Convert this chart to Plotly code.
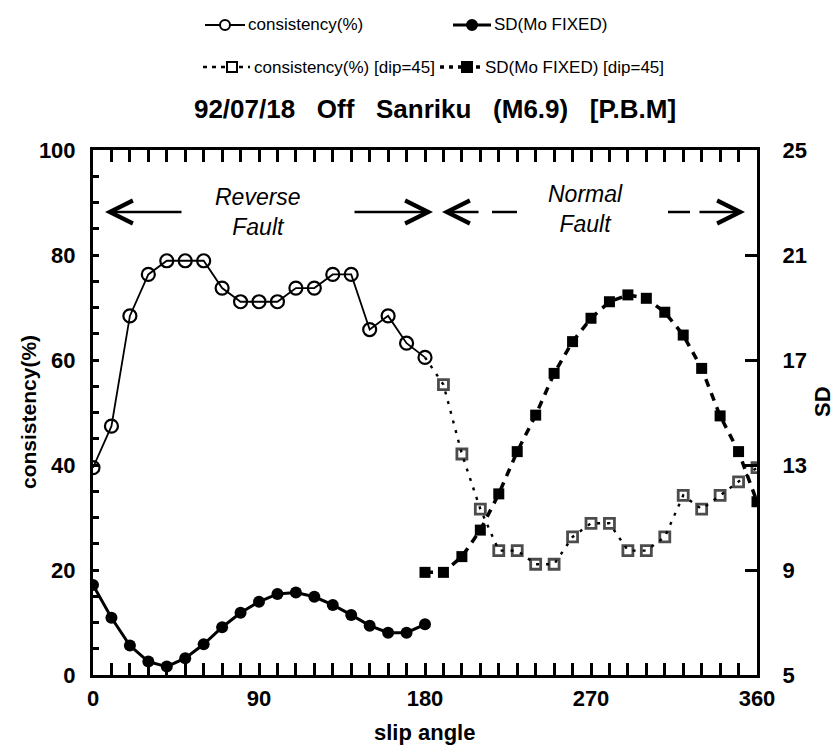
import plotly.graph_objects as go

# ---- data -------------------------------------------------------------
slip = list(range(0, 181, 10))          # reverse-fault half (dip 90)
slip_dip45 = list(range(180, 361, 10))  # normal-fault half (dip 45)

consistency = [39.5, 47.4, 68.4, 76.3, 78.9, 78.9, 78.9, 73.7, 71.1, 71.1,
               71.1, 73.7, 73.7, 76.3, 76.3, 65.8, 68.4, 63.2, 60.5]
sd_fixed = [8.43, 7.18, 6.12, 5.51, 5.32, 5.64, 6.17, 6.82, 7.37, 7.79,
            8.09, 8.14, 7.98, 7.67, 7.29, 6.88, 6.61, 6.61, 6.93]
consistency_dip45 = [60.5, 55.3, 42.1, 31.6, 23.7, 23.7, 21.1, 21.1, 26.3, 28.9,
                     28.9, 23.7, 23.7, 26.3, 34.2, 31.6, 34.2, 36.8, 39.5]
sd_fixed_dip45 = [8.91, 8.91, 9.51, 10.52, 11.90, 13.51, 14.90, 16.49, 17.70, 18.59,
                  19.22, 19.48, 19.35, 18.82, 17.95, 16.68, 14.87, 13.51, 11.60]

x_ticks = [0, 90, 180, 270, 360]
y_ticks = [0, 20, 40, 60, 80, 100]
sd_ticks = [5, 9, 13, 17, 21, 25]

title_text = "\u00a0\u00a0\u00a0".join(["92/07/18", "Off", "Sanriku", "(M6.9)", "[P.B.M]"])
legend_labels = ["consistency(%)", "SD(Mo FIXED)",
                 "consistency(%) [dip=45]", "SD(Mo FIXED) [dip=45]"]

# ---- geometry helpers (pixels -> paper) ----------------------------------
W, H = 835, 746
ML, MR, MT, MB = 93, 78, 150, 71
PW, PH = W - ML - MR, H - MT - MB


def px(xp):
    return (xp - ML) / PW


def py(yp):
    return (H - MB - yp) / PH


def deg(xp):
    return (xp - ML) / PW * 360.0


def pct(yp):
    return (H - MB - yp) / PH * 100.0


BLACK = "black"
FONT = "Liberation Sans, Arial, Helvetica, sans-serif"

fig = go.Figure()

# dip-45 series first so the solid series sit on top at the 180 join
hidden_first = [0] + [10] * (len(slip_dip45) - 1)
fig.add_trace(go.Scatter(
    x=slip_dip45, y=consistency_dip45, mode="lines+markers",
    line=dict(color=BLACK, width=2.4, dash="3px,7px"),
    marker=dict(symbol="square-open", size=hidden_first, color=BLACK,
                line=dict(width=2.8, color=BLACK)),
    showlegend=False))

fig.add_trace(go.Scatter(
    x=slip_dip45, y=sd_fixed_dip45, mode="lines+markers", yaxis="y2",
    line=dict(color=BLACK, width=3.5, dash="8px,7px"),
    marker=dict(symbol="square", size=11, color=BLACK),
    showlegend=False))

fig.add_trace(go.Scatter(
    x=slip, y=consistency, mode="lines+markers",
    line=dict(color=BLACK, width=1.8),
    marker=dict(symbol="circle-open", size=13, color=BLACK,
                line=dict(width=2.2, color=BLACK)),
    showlegend=False))

fig.add_trace(go.Scatter(
    x=slip, y=sd_fixed, mode="lines+markers", yaxis="y2",
    line=dict(color=BLACK, width=3),
    marker=dict(symbol="circle", size=12, color=BLACK),
    showlegend=False))

tick_font = dict(family=FONT, size=22, color=BLACK, weight="bold")

fig.update_layout(
    width=W, height=H,
    margin=dict(l=ML, r=MR, t=MT, b=MB),
    paper_bgcolor="white", plot_bgcolor="white",
    showlegend=False,
    title=dict(text=title_text, x=435 / W, xanchor="center", xref="container",
               y=1 - 109 / H, yanchor="middle", yref="container",
               font=dict(family=FONT, size=26, color=BLACK, weight="bold")),
    xaxis=dict(range=[0, 360], tickvals=x_ticks, ticks="inside", ticklen=12,
               tickwidth=2.5, tickcolor=BLACK,
               minor=dict(dtick=10, ticks="inside", ticklen=5, tickwidth=2.5,
                          tickcolor=BLACK, showgrid=False),
               showline=True, linewidth=3, linecolor=BLACK, mirror="allticks",
               showgrid=False, zeroline=False, tickfont=tick_font,
               ticklabelstandoff=2),
    yaxis=dict(range=[0, 100], tickvals=y_ticks, ticks="inside", ticklen=6,
               tickwidth=2.5, tickcolor=BLACK,
               minor=dict(dtick=5, ticks="inside", ticklen=6, tickwidth=2.5,
                          tickcolor=BLACK, showgrid=False),
               showline=True, linewidth=3, linecolor=BLACK,
               showgrid=False, zeroline=False, tickfont=tick_font,
               ticklabelstandoff=10),
    yaxis2=dict(range=[5, 25], tickvals=sd_ticks, overlaying="y", side="right",
                ticks="inside", ticklen=12, tickwidth=2.5, tickcolor=BLACK,
                showline=True, linewidth=3, linecolor=BLACK,
                showgrid=False, zeroline=False, tickfont=tick_font,
                ticklabelstandoff=18),
)

annotations = []
shapes = []

# axis titles
annotations.append(dict(text="slip angle", xref="paper", yref="paper",
                        x=px(424), y=py(732), xanchor="center", yanchor="middle",
                        showarrow=False,
                        font=dict(family=FONT, size=22, color=BLACK, weight="bold")))
annotations.append(dict(text="consistency(%)", xref="paper", yref="paper",
                        x=px(28), y=py(412), xanchor="center", yanchor="middle",
                        textangle=-90, showarrow=False,
                        font=dict(family=FONT, size=21, color=BLACK, weight="bold")))
annotations.append(dict(text="SD", xref="paper", yref="paper",
                        x=px(822), y=py(402), xanchor="center", yanchor="middle",
                        textangle=-90, showarrow=False,
                        font=dict(family=FONT, size=22, color=BLACK, weight="bold")))

# fault regime labels
fault_font = dict(family=FONT, size=23, color=BLACK, style="italic")
annotations.append(dict(text="Reverse<br>Fault", x=deg(258), y=pct(212),
                        xref="x", yref="y", showarrow=False, font=fault_font))
annotations.append(dict(text="Normal<br>Fault", x=deg(585), y=pct(209),
                        xref="x", yref="y", showarrow=False, font=fault_font))

arrow_y = pct(212)


def arrow(head_px, tail_px):
    return dict(x=deg(head_px), y=arrow_y, ax=deg(tail_px), ay=arrow_y,
                xref="x", yref="y", axref="x", ayref="y", text="",
                showarrow=True, arrowhead=5, arrowsize=1.8, arrowwidth=2.5,
                arrowcolor=BLACK)


annotations.append(arrow(105, 183))
annotations.append(arrow(433, 353))
annotations.append(arrow(442, 480))
annotations.append(arrow(745, 698))
for a, b in [(492, 517), (668, 690)]:
    shapes.append(dict(type="line", xref="x", yref="y", x0=deg(a), x1=deg(b),
                       y0=arrow_y, y1=arrow_y, line=dict(color=BLACK, width=2.5)))

# legend, two rows
legend_font = dict(family=FONT, size=17, color=BLACK)
legend_items = [
    # (label, line x0, line x1, marker x, y, line width, dash, marker kind, text x)
    (legend_labels[0], 205, 245, 225, 25, 1.8, "solid", "circle-open", 246),
    (legend_labels[1], 453, 491, 472, 25, 3, "solid", "circle", 492),
    (legend_labels[2], 203, 250, 232, 67, 2.4, "4px,5px", "square-open", 252),
    (legend_labels[3], 440, 482, 467, 67, 3.5, "4px,5px", "square", 483),
]
for label, lx0, lx1, mx, ly, lw, dash, kind, tx in legend_items:
    shapes.append(dict(type="line", xref="paper", yref="paper",
                       x0=px(lx0), x1=px(lx1), y0=py(ly), y1=py(ly),
                       line=dict(color=BLACK, width=lw, dash=dash)))
    half = 5
    filled = not kind.endswith("open")
    shapes.append(dict(type="circle" if kind.startswith("circle") else "rect",
                       xref="paper", yref="paper",
                       xsizemode="pixel", ysizemode="pixel",
                       xanchor=px(mx), yanchor=py(ly),
                       x0=-half, x1=half, y0=-half, y1=half,
                       fillcolor=BLACK if filled else "white",
                       line=dict(color=BLACK, width=2)))
    annotations.append(dict(text=label, xref="paper", yref="paper",
                            x=px(tx), y=py(ly), xanchor="left", yanchor="middle",
                            showarrow=False, font=legend_font))

fig.update_layout(annotations=annotations, shapes=shapes)

fig.write_html("out.html")
